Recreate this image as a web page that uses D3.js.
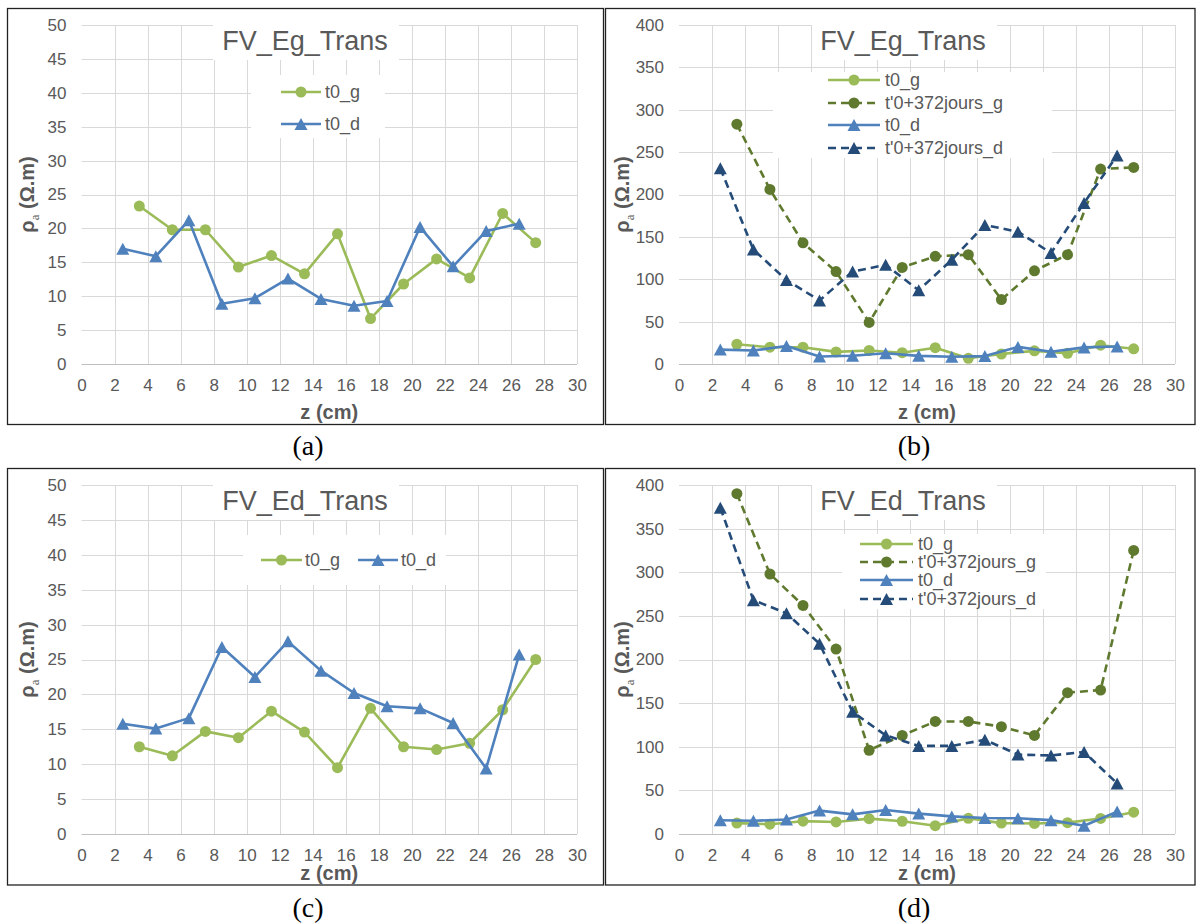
<!DOCTYPE html>
<html><head><meta charset="utf-8">
<script src="https://cdn.jsdelivr.net/npm/d3@7"></script>
<style>body{margin:0;background:#fff}</style>
</head><body>
<script>
// ---------- DATA ----------
const xG = [3.5,5.5,7.5,9.5,11.5,13.5,15.5,17.5,19.5,21.5,23.5,25.5,27.5];
const xD = [2.5,4.5,6.5,8.5,10.5,12.5,14.5,16.5,18.5,20.5,22.5,24.5,26.5];
// FV_Eg_Trans
const egT0g = [23.3,19.8,19.8,14.3,16.0,13.3,19.2,6.7,11.8,15.5,12.7,22.2,17.9];
const egT0d = [17.0,15.9,21.2,8.9,9.7,12.6,9.6,8.6,9.3,20.2,14.4,19.6,20.7];
const egT372g = [283,206,143,109,49,114,127,129,76,110,129,230,232];
const egT372d = [231,135,99,75,109,117,87,123,164,156,131,190,246];
// FV_Ed_Trans
const edT0g = [12.5,11.2,14.7,13.8,17.6,14.6,9.5,18.0,12.5,12.1,13.0,17.8,25.0];
const edT0d = [15.8,15.1,16.6,26.8,22.5,27.6,23.4,20.2,18.3,18.0,15.9,9.4,25.7];
const edT372g = [390,298,262,212,96,113,129,129,123,113,162,165,325];
const edT372d = [374,268,253,218,140,113,101,101,108,91,90,94,58];
const xTicks = d3.range(0,31,2);
const legendNames = ["t0_g","t'0+372jours_g","t0_d","t'0+372jours_d"];
const captions = ["(a)","(b)","(c)","(d)"];
const titles = ["FV_Eg_Trans","FV_Eg_Trans","FV_Ed_Trans","FV_Ed_Trans"];

// ---------- STYLE ----------
const C_T0G = "#9BBB59", C_372G = "#5F7A2E", C_T0D = "#4F81BD", C_372D = "#254C78";
const GREY = "#595959";
const FONT = "'Liberation Sans', Arial, sans-serif";

const svg = d3.select("body").append("svg").attr("width",1198).attr("height",924);

// panel frames
[[7.5,8.5,596,416],[605.5,8.5,589.5,416],[7.5,468.5,596,416.5],[605.5,468.5,589.5,416.5]].forEach(r=>{
  svg.append("rect").attr("x",r[0]).attr("y",r[1]).attr("width",r[2]).attr("height",r[3])
    .attr("fill","none").attr("stroke","#222").attr("stroke-width",1.3);
});

function triPath(w,h){return `M0,${-h/2}L${w/2},${h/2}L${-w/2},${h/2}Z`;}

function drawMarker(g, type, color, x, y){
  if(type==="circle") g.append("circle").attr("cx",x).attr("cy",y).attr("r",5.5).attr("fill",color);
  else g.append("path").attr("d",triPath(13,12)).attr("transform",`translate(${x},${y})`).attr("fill",color);
}

function panel(cfg){
  const g = svg.append("g");
  const x = d3.scaleLinear().domain([0,30]).range([cfg.l,cfg.r]);
  const y = d3.scaleLinear().domain([0,cfg.ymax]).range([cfg.b,cfg.t]);
  const yTicks = d3.range(0,cfg.ymax+0.001,cfg.ystep);
  // gridlines
  g.append("g").selectAll("line").data(yTicks.filter(v=>v>0)).join("line")
    .attr("x1",cfg.l).attr("x2",cfg.r).attr("y1",d=>Math.round(y(d))+0.5).attr("y2",d=>Math.round(y(d))+0.5)
    .attr("stroke","#D9D9D9").attr("stroke-width",1);
  g.append("g").selectAll("line").data(xTicks.filter(v=>v>0)).join("line")
    .attr("x1",d=>Math.round(x(d))+0.5).attr("x2",d=>Math.round(x(d))+0.5).attr("y1",cfg.t).attr("y2",cfg.b)
    .attr("stroke","#D9D9D9").attr("stroke-width",1);
  g.append("line").attr("x1",cfg.l).attr("x2",cfg.r).attr("y1",Math.round(cfg.b)+0.5).attr("y2",Math.round(cfg.b)+0.5)
    .attr("stroke","#BFBFBF").attr("stroke-width",1.2);
  // axes via d3
  const ya = d3.axisLeft(y).tickValues(yTicks).tickSize(0).tickPadding(15).tickFormat(d3.format("d"));
  const yg = g.append("g").attr("transform",`translate(${cfg.l},0)`).call(ya);
  yg.select(".domain").remove();
  yg.selectAll("text").attr("font-family",FONT).attr("font-size",17).attr("fill",GREY);
  const xa = d3.axisBottom(x).tickValues(xTicks).tickSize(0).tickPadding(15).tickFormat(d3.format("d"));
  const xg = g.append("g").attr("transform",`translate(0,${cfg.b})`).call(xa);
  xg.select(".domain").remove();
  xg.selectAll("text").attr("font-family",FONT).attr("font-size",17).attr("fill",GREY);
  // axis titles
  g.append("text").attr("x",(cfg.l+cfg.r)/2).attr("y",cfg.xLabY).attr("text-anchor","middle")
    .attr("font-family",FONT).attr("font-size",20).attr("font-weight","bold").attr("fill",GREY).text("z (cm)");
  const yl = g.append("text").attr("transform",`translate(${cfg.l-cfg.yLabOff},${(cfg.t+cfg.b)/2}) rotate(-90)`)
    .attr("text-anchor","middle").attr("dy","0.35em")
    .attr("font-family",FONT).attr("font-size",20).attr("font-weight","bold").attr("fill",GREY);
  yl.append("tspan").text("ρ");
  yl.append("tspan").attr("font-size",13).attr("font-weight","normal").attr("font-family","'Liberation Serif', serif").attr("dy",5).text("a");
  yl.append("tspan").attr("dy",-5).text(" (Ω.m)");
  // series
  cfg.series.forEach(s=>{
    const pts = s.xs.map((xv,i)=>[xv,s.ys[i]]);
    const line = d3.line().x(d=>x(d[0])).y(d=>y(d[1]));
    g.append("path").attr("d",line(pts)).attr("fill","none").attr("stroke",s.color).attr("stroke-width",2.6)
      .attr("stroke-dasharray",s.dash?"8,5":null).attr("stroke-linejoin","round");
    const mg = g.append("g");
    pts.forEach(p=>drawMarker(mg,s.marker,s.color,x(p[0]),y(p[1])));
  });
  // title
  g.append("rect").attr("x",cfg.titleBox[0]).attr("y",cfg.titleBox[1]).attr("width",cfg.titleBox[2]).attr("height",cfg.titleBox[3]).attr("fill","#fff");
  g.append("text").attr("x",cfg.titleX).attr("y",cfg.titleY).attr("text-anchor","middle")
    .attr("font-family",FONT).attr("font-size",27).attr("fill",GREY).text(cfg.title);
  // legend
  const L = cfg.legend;
  g.append("rect").attr("x",L.box[0]).attr("y",L.box[1]).attr("width",L.box[2]).attr("height",L.box[3]).attr("fill","#fff");
  L.items.forEach(it=>{
    const s = cfg.series[it.si];
    g.append("line").attr("x1",it.x1).attr("x2",it.x2).attr("y1",it.y).attr("y2",it.y)
      .attr("stroke",s.color).attr("stroke-width",2.6).attr("stroke-dasharray",s.dash?"8,5":null);
    drawMarker(g,s.marker,s.color,(it.x1+it.x2)/2,it.y);
    g.append("text").attr("x",it.tx).attr("y",it.y).attr("dy","0.35em")
      .attr("font-family",FONT).attr("font-size",18).attr("fill",GREY).text(s.name);
  });
  // caption
  svg.append("text").attr("x",cfg.capX).attr("y",cfg.capY).attr("text-anchor","middle")
    .attr("font-family","'Liberation Serif', 'Times New Roman', serif").attr("font-size",28).attr("fill","#000").text(cfg.caption);
}

const sT0g = (ys)=>({name:legendNames[0],xs:xG,ys,color:C_T0G,marker:"circle",dash:false});
const s372g = (ys)=>({name:legendNames[1],xs:xG,ys,color:C_372G,marker:"circle",dash:true});
const sT0d = (ys)=>({name:legendNames[2],xs:xD,ys,color:C_T0D,marker:"tri",dash:false});
const s372d = (ys)=>({name:legendNames[3],xs:xD,ys,color:C_372D,marker:"tri",dash:true});

// (a)
panel({l:81.5,r:577,t:25,b:364,ymax:50,ystep:5,title:titles[0],titleX:305,titleY:50,titleBox:[213,21,186,39],
  xLabY:419,yLabOff:55,caption:captions[0],capX:308,capY:455,
  series:[sT0g(egT0g),sT0d(egT0d)],
  legend:{box:[251,75,134,63],items:[{si:0,x1:281,x2:321,tx:325,y:92},{si:1,x1:281,x2:321,tx:325,y:124}]}});
// (b)
panel({l:679,r:1175,t:25,b:364,ymax:400,ystep:50,title:titles[1],titleX:903,titleY:50,titleBox:[812,21,185,39],
  xLabY:419,yLabOff:57,caption:captions[1],capX:914,capY:455,
  series:[sT0g(egT0g),s372g(egT372g),sT0d(egT0d),s372d(egT372d)],
  legend:{box:[773,72,279,86],items:[0,1,2,3].map((i,k)=>({si:i,x1:828,x2:880,tx:885,y:[80,103,125,148][k]}))}});
// (c)
panel({l:81.5,r:577,t:485,b:834,ymax:50,ystep:5,title:titles[2],titleX:305,titleY:510,titleBox:[213,481,186,39],
  xLabY:880,yLabOff:55,caption:captions[2],capX:308,capY:917,
  series:[sT0g(edT0g),sT0d(edT0d)],
  legend:{box:[243,535,203,50],items:[{si:0,x1:261,x2:302,tx:305,y:560},{si:1,x1:358,x2:398,tx:401,y:560}]}});
// (d)
panel({l:679,r:1175,t:485,b:834,ymax:400,ystep:50,title:titles[3],titleX:903,titleY:510,titleBox:[812,481,185,39],
  xLabY:880,yLabOff:57,caption:captions[3],capX:914,capY:917,
  series:[sT0g(edT0g),s372g(edT372g),sT0d(edT0d),s372d(edT372d)],
  legend:{box:[842,534,204,75],items:[0,1,2,3].map((i,k)=>({si:i,x1:860,x2:913,tx:918,y:[544,562,580,599][k]}))}});
</script>
</body></html>
